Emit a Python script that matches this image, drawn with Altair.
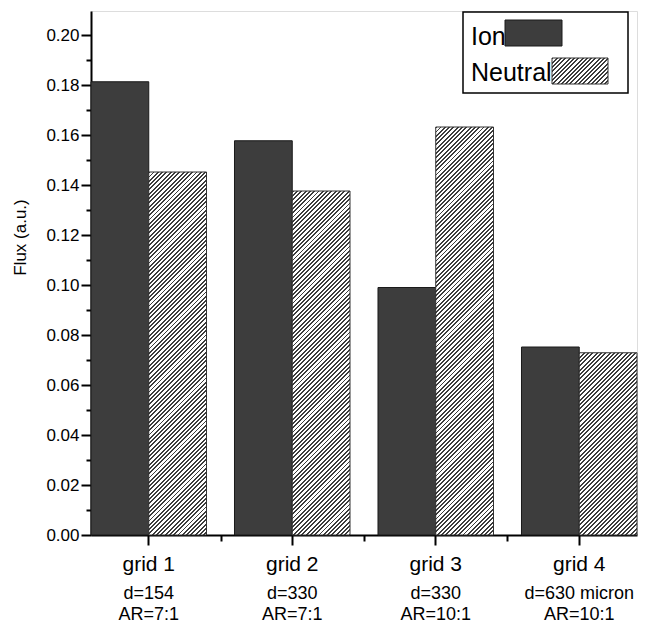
import altair as alt
import pandas as pd

# ---------------- data ----------------
categories = ["grid 1", "grid 2", "grid 3", "grid 4"]
series = ["Ion", "Neutral"]
ion_flux = [0.1813, 0.1577, 0.0990, 0.0752]
neutral_flux = [0.1452, 0.1376, 0.1632, 0.0729]
label_line2 = ["d=154", "d=330", "d=330", "d=630 micron"]
label_line3 = ["AR=7:1", "AR=7:1", "AR=10:1", "AR=10:1"]
y_tick_values = [round(i * 0.01, 2) for i in range(21)]

# ---------------- layout ----------------
W, H = 546, 524
YMAX = 0.2096
PAD_INNER = 0.195
STEP = W / (len(categories) - PAD_INNER)
BAR_W = STEP * (1 - PAD_INNER) / 2
FONT = "Arial, Liberation Sans, sans-serif"


def hatch(w, h, period=4.3, dark=0.45, color="#3c3c3c"):
    """diagonal '/' hatch as a striped linear gradient for a w x h box"""
    L = w + h
    k = L / (w * w + h * h)
    stops = []
    i = 0
    while True:
        a = i * period / L
        if a >= 1:
            break
        b = min((i * period + dark * period) / L, 1.0)
        c = min((i + 1) * period / L, 1.0)
        stops += [
            {"offset": a, "color": color},
            {"offset": b, "color": color},
            {"offset": b, "color": "#ffffff"},
            {"offset": c, "color": "#ffffff"},
        ]
        i += 1
    return {"gradient": "linear", "x1": 0, "y1": 0, "x2": k * w, "y2": k * h,
            "stops": stops}


df = pd.DataFrame({
    "category": categories * 2,
    "series": [series[0]] * 4 + [series[1]] * 4,
    "flux": ion_flux + neutral_flux,
})
labels_df = pd.DataFrame({"category": categories, "line2": label_line2,
                          "line3": label_line3})

x_scale = alt.Scale(domain=categories, paddingInner=PAD_INNER, paddingOuter=0)
y_scale = alt.Scale(domain=[0, YMAX], nice=False)

x_axis = alt.Axis(title=None, labelAngle=0, labelFont=FONT, labelFontSize=21,
                  labelColor="black", labelPadding=8, tickSize=10,
                  tickColor="black", tickWidth=2, domainColor="black",
                  domainWidth=2, grid=False, orient="bottom")
is_major = "round(datum.value*100) % 2 == 0"
y_axis = alt.Axis(title="Flux (a.u.)", values=y_tick_values,
                  labelExpr=f"{is_major} ? format(datum.value, '.2f') : ''",
                  labelFont=FONT, labelFontSize=17, labelColor="black",
                  labelPadding=2,
                  tickSize={"condition": {"test": is_major, "value": 10},
                            "value": 5},
                  tickColor="black", tickWidth=2, domainColor="black",
                  domainWidth=2, grid=False, titleFont=FONT, titleFontSize=17,
                  titleFontWeight="normal", titleColor="black", titleX=-71,
                  titleY=226, titleAlign="center", titleBaseline="middle")

x_enc = alt.X("category:N", scale=x_scale, axis=x_axis, sort=categories)
y_enc = alt.Y("flux:Q", scale=y_scale, axis=y_axis)
xo_enc = alt.XOffset("series:N", scale=alt.Scale(domain=series, paddingInner=0,
                                                 paddingOuter=0))

base = alt.Chart(df).encode(x=x_enc, y=y_enc, xOffset=xo_enc)

ion_layer = base.transform_filter(alt.datum.series == series[0]).mark_bar(
    fill="#3d3d3d", stroke="#1a1a1a", strokeWidth=1)

neutral_layers = []
for cat, v in zip(categories, neutral_flux):
    h = v / YMAX * H
    neutral_layers.append(
        base.transform_filter(
            (alt.datum.series == series[1]) & (alt.datum.category == cat)
        ).mark_bar(fill=hatch(BAR_W, h), stroke="#333333", strokeWidth=1)
    )

bars = alt.layer(ion_layer, *neutral_layers)

# sub-labels under the category axis (second line carries the minor x ticks)
minor_axis = alt.Axis(values=categories[:3], bandPosition=1,
                      tickOffset=PAD_INNER * STEP / 2, labels=False,
                      domain=False, tickSize=6, tickColor="black", tickWidth=2,
                      title=None, grid=False, orient="bottom")
line2_layer = alt.Chart(labels_df).mark_text(
    font=FONT, fontSize=18, baseline="alphabetic", align="center",
    color="black").encode(
    x=alt.X("category:N", scale=x_scale, axis=minor_axis, sort=categories),
    y=alt.value(588), text="line2:N")
line3_layer = alt.Chart(labels_df).mark_text(
    font=FONT, fontSize=18, baseline="alphabetic", align="center",
    color="black").encode(
    x=alt.X("category:N", scale=x_scale, axis=None, sort=categories),
    y=alt.value(609), text="line3:N")

# ---------------- legend (text left of swatch) ----------------
one = pd.DataFrame({"series": [series[0]]})
two = pd.DataFrame({"series": [series[1]]})
legend_box = alt.Chart(one).mark_rect(fill="white", stroke="black",
                                      strokeWidth=1.5).encode(
    x=alt.value(372), x2=alt.value(537), y=alt.value(1), y2=alt.value(82))
leg_ion_txt = alt.Chart(one).mark_text(font=FONT, fontSize=25, align="left",
                                       baseline="alphabetic",
                                       color="black").encode(
    x=alt.value(380), y=alt.value(34), text="series:N")
leg_neu_txt = alt.Chart(two).mark_text(font=FONT, fontSize=25, align="left",
                                       baseline="alphabetic",
                                       color="black").encode(
    x=alt.value(380), y=alt.value(70), text="series:N")
leg_ion_sw = alt.Chart(one).mark_rect(fill="#3d3d3d", stroke="#1a1a1a",
                                      strokeWidth=1).encode(
    x=alt.value(414), x2=alt.value(471), y=alt.value(9), y2=alt.value(35))
leg_neu_sw = alt.Chart(two).mark_rect(fill=hatch(56, 26), stroke="#333333",
                                      strokeWidth=1).encode(
    x=alt.value(461), x2=alt.value(517), y=alt.value(47), y2=alt.value(73))

chart = alt.layer(
    bars, line2_layer, line3_layer, legend_box, leg_ion_txt, leg_neu_txt,
    leg_ion_sw, leg_neu_sw
).resolve_axis(x="independent").properties(
    width=W, height=H,
    padding={"left": 83, "top": 3, "right": 7, "bottom": 88},
    autosize=alt.AutoSizeParams(type="none"),
).configure_view(stroke="black", strokeWidth=2).configure(
    background="white")

chart.save("out.html", embed_options={"renderer": "svg", "actions": False})
